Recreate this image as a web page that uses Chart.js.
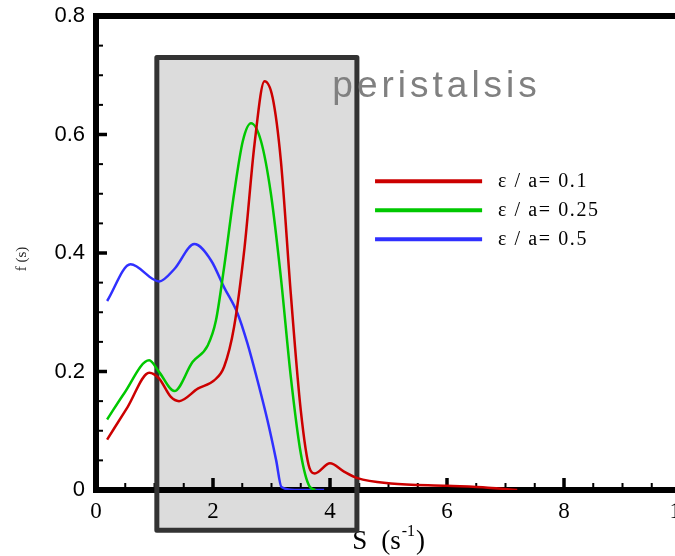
<!DOCTYPE html>
<html><head><meta charset="utf-8">
<script src="https://cdn.jsdelivr.net/npm/chart.js@4"></script>
<style>
html,body{margin:0;padding:0;background:#fff;overflow:hidden;width:675px;height:556px}
#wrap{position:relative;width:700px;height:556px}
</style></head>
<body><div id="wrap"><canvas id="c" width="700" height="556"></canvas></div>
<script>
// ---- data ----
const seriesLabels = ['ε / a= 0.1', 'ε / a= 0.25', 'ε / a= 0.5'];
const redS   = [0.19, 0.54, 0.91, 1.08, 1.28, 1.42, 1.74, 2.02, 2.19, 2.36, 2.54, 2.71, 2.88, 3.02, 3.16, 3.33, 3.50, 3.65, 3.74, 4.00, 4.24, 4.47, 5.04, 6.00, 6.70, 7.20];
const redF   = [0.085, 0.140, 0.198, 0.188, 0.157, 0.150, 0.171, 0.185, 0.208, 0.275, 0.410, 0.584, 0.690, 0.662, 0.556, 0.331, 0.135, 0.037, 0.028, 0.045, 0.031, 0.020, 0.011, 0.007, 0.004, 0.000];
const greenS = [0.19, 0.48, 0.91, 1.08, 1.34, 1.65, 1.91, 2.05, 2.19, 2.36, 2.51, 2.65, 2.82, 2.99, 3.16, 3.33, 3.50, 3.65, 3.75];
const greenF = [0.119, 0.163, 0.219, 0.199, 0.167, 0.216, 0.244, 0.286, 0.376, 0.500, 0.589, 0.619, 0.589, 0.500, 0.359, 0.191, 0.062, 0.006, 0.000];
const blueS  = [0.19, 0.59, 1.08, 1.34, 1.68, 1.97, 2.19, 2.42, 2.59, 2.76, 2.93, 3.08, 3.17, 3.40, 3.90];
const blueF  = [0.319, 0.381, 0.352, 0.373, 0.415, 0.387, 0.342, 0.298, 0.247, 0.185, 0.118, 0.050, 0.005, 0.000, 0.000];
const xTicks = [0, 2, 4, 6, 8, 10];
const yTicks = [0, 0.2, 0.4, 0.6, 0.8];
const boxS = [1.04, 4.46];      // shaded "peristalsis" band, S range
const boxF = [-0.068, 0.73];    // shaded band, f range
const bandLabel = 'peristalsis';
const xTitle = ['S', '(s', '-1', ')'];
const yTitle = 'f (s)';

const colors = ['#cc0000', '#00c800', '#3030ff'];
const pts = (s, f) => s.map((v, i) => ({x: v, y: f[i]}));

function bandRect(chart) {
  const {scales: {x, y}} = chart;
  const bx0 = x.getPixelForValue(boxS[0]), bx1 = x.getPixelForValue(boxS[1]);
  const by0 = y.getPixelForValue(boxF[1]), by1 = y.getPixelForValue(boxF[0]);
  return [bx0, by0, bx1 - bx0, by1 - by0];
}

const overlay = {
  id: 'overlay',
  beforeDraw(chart) {
    const {ctx} = chart;
    ctx.save();
    ctx.fillStyle = '#dcdcdc';
    ctx.fillRect(...bandRect(chart));
    ctx.restore();
  },
  beforeDatasetsDraw(chart) {
    const {ctx, scales: {x, y}, chartArea: a} = chart;
    ctx.save();
    // axis titles
    ctx.fillStyle = '#000';
    ctx.textBaseline = 'alphabetic';
    ctx.textAlign = 'left';
    let tx = x.getPixelForValue(4.38), ty = 549;
    ctx.font = '27px "Liberation Serif"';
    ctx.fillText(xTitle[0], tx, ty); tx += ctx.measureText(xTitle[0]).width + 14;
    ctx.fillText(xTitle[1], tx, ty); tx += ctx.measureText(xTitle[1]).width + 1;
    ctx.font = '16px "Liberation Serif"';
    ctx.fillText(xTitle[2], tx, ty - 13); tx += ctx.measureText(xTitle[2]).width + 1;
    ctx.font = '27px "Liberation Serif"';
    ctx.fillText(xTitle[3], tx, ty);
    ctx.save();
    ctx.translate(26, y.getPixelForValue(0.39));
    ctx.rotate(-Math.PI / 2);
    ctx.font = '15px "Liberation Serif"';
    ctx.fillStyle = '#222';
    ctx.textAlign = 'center';
    ctx.fillText(yTitle, 0, 0);
    ctx.restore();

    // axes frame
    ctx.strokeStyle = '#000';
    ctx.lineWidth = 6;
    ctx.lineCap = 'square';
    ctx.beginPath();
    ctx.moveTo(a.left, a.bottom); ctx.lineTo(a.right, a.bottom);
    ctx.moveTo(a.left, a.bottom); ctx.lineTo(a.left, a.top);
    ctx.lineTo(a.right, a.top); ctx.lineTo(a.right, a.bottom);
    ctx.stroke();
    // ticks (inward)
    ctx.lineCap = 'butt';
    for (let v = 0; v <= 10.001; v += 0.5) {
      const px = x.getPixelForValue(v);
      const major = Math.abs(v / 2 - Math.round(v / 2)) < 1e-6;
      ctx.lineWidth = major ? 3.5 : 2;
      ctx.beginPath(); ctx.moveTo(px, a.bottom); ctx.lineTo(px, a.bottom - (major ? 12 : 7)); ctx.stroke();
    }
    for (let v = 0; v <= 0.8001; v += 0.05) {
      const py = y.getPixelForValue(v);
      const major = Math.abs(v / 0.2 - Math.round(v / 0.2)) < 1e-6;
      ctx.lineWidth = major ? 3.5 : 2;
      ctx.beginPath(); ctx.moveTo(a.left, py); ctx.lineTo(a.left + (major ? 11 : 7), py); ctx.stroke();
    }

    // band border
    ctx.strokeStyle = '#333';
    ctx.lineWidth = 5;
    ctx.lineJoin = 'round';
    ctx.strokeRect(...bandRect(chart));

    // band label
    ctx.fillStyle = '#808080';
    ctx.font = '37px "Liberation Sans"';
    ctx.letterSpacing = '4px';
    ctx.textAlign = 'left';
    ctx.fillText(bandLabel, x.getPixelForValue(4.04), y.getPixelForValue(0.663));
    ctx.letterSpacing = '0px';

    // legend
    const lx0 = x.getPixelForValue(4.77), lx1 = x.getPixelForValue(6.60), ltx = x.getPixelForValue(6.87);
    const ly = [0.521, 0.472, 0.423];
    ctx.font = '20px "Liberation Serif"';
    ctx.letterSpacing = '1.6px';
    ctx.textBaseline = 'middle';
    chart.data.datasets.forEach((ds, i) => {
      const py = y.getPixelForValue(ly[i]);
      ctx.strokeStyle = ds.borderColor;
      ctx.lineWidth = 4;
      ctx.beginPath(); ctx.moveTo(lx0, py); ctx.lineTo(lx1, py); ctx.stroke();
      ctx.fillStyle = '#000';
      ctx.fillText(ds.label, ltx, py);
    });
    ctx.restore();
  }
};

new Chart(document.getElementById('c'), {
  type: 'line',
  data: {
    datasets: [
      {label: seriesLabels[0], data: pts(redS, redF), borderColor: colors[0]},
      {label: seriesLabels[1], data: pts(greenS, greenF), borderColor: colors[1]},
      {label: seriesLabels[2], data: pts(blueS, blueF), borderColor: colors[2]}
    ]
  },
  options: {
    responsive: false,
    animation: false,
    devicePixelRatio: 1,
    layout: {padding: {left: 0, top: 16, right: 19, bottom: 0}},
    elements: {
      point: {radius: 0},
      line: {borderWidth: 2.5, cubicInterpolationMode: 'monotone', fill: false}
    },
    plugins: {legend: {display: false}, tooltip: {enabled: false}},
    scales: {
      x: {
        type: 'linear', min: 0, max: 10,
        afterBuildTicks: s => { s.ticks = xTicks.map(v => ({value: v})); },
        afterFit: s => { s.height = 66; s.paddingLeft = 0; s.paddingRight = 0; },
        grid: {display: false, drawTicks: false},
        border: {display: false},
        ticks: {padding: 8, color: '#000', font: {family: 'Liberation Serif', size: 23}, maxRotation: 0, autoSkip: false}
      },
      y: {
        type: 'linear', min: 0, max: 0.8,
        afterBuildTicks: s => { s.ticks = yTicks.map(v => ({value: v})); },
        afterFit: s => { s.width = 96; s.paddingTop = 0; s.paddingBottom = 0; },
        grid: {display: false, drawTicks: false},
        border: {display: false},
        ticks: {padding: 11, color: '#000', font: {family: 'Liberation Sans', size: 22}}
      }
    }
  },
  plugins: [overlay]
});
</script>
</body></html>
